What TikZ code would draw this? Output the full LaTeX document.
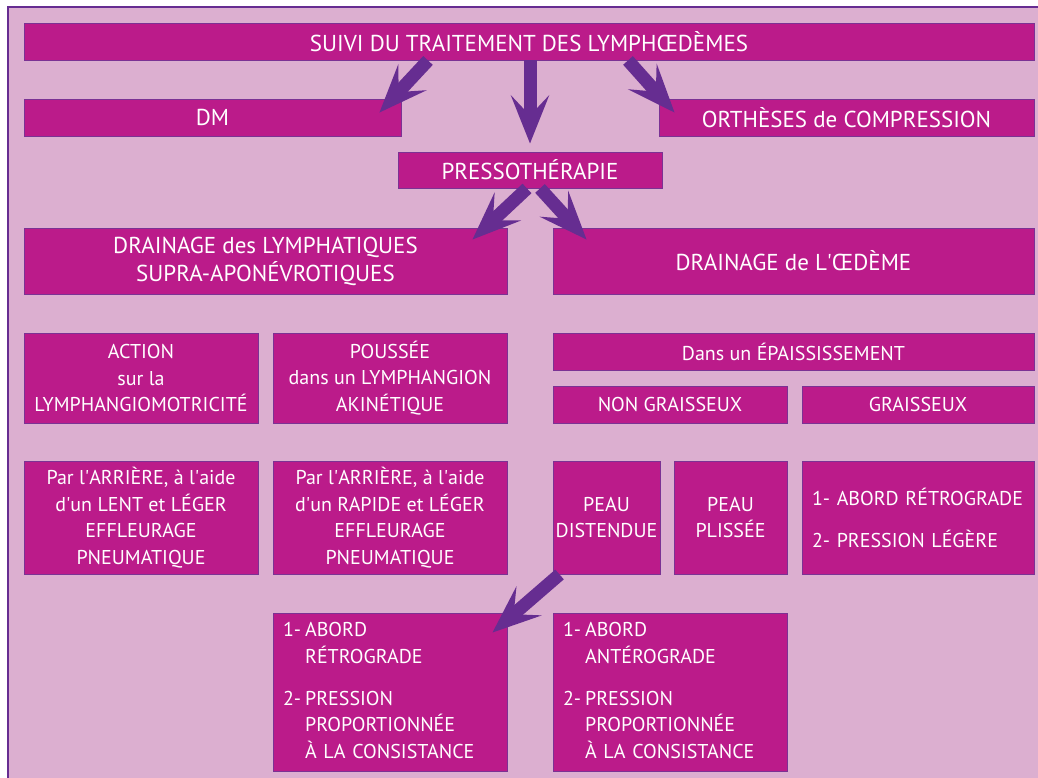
\documentclass[tikz,border=0pt]{standalone}
\usepackage{fontspec}
\setmainfont{PT Sans}
\usetikzlibrary{arrows.meta,calc}
\definecolor{bgpink}{HTML}{DCAFD0}
\definecolor{boxmag}{HTML}{BB1B8A}
\definecolor{boxedge}{HTML}{7B3294}
\definecolor{flowpurple}{HTML}{662D91}
\newcommand{\ap}{\textquotesingle}

\begin{document}
\begin{tikzpicture}[x=1pt, y=-1pt,
  box/.style={fill=boxmag, draw=boxedge, line width=0.9pt, text=white, inner sep=0pt, align=center},
  big/.style={font=\fontsize{23}{28}\selectfont},
  small/.style={font=\fontsize{20}{26.5}\selectfont},
  flow/.style={draw=flowpurple, line width=13pt, -{Stealth[length=48pt, width=38pt, inset=20pt]}}]
\useasboundingbox (0,0) rectangle (1038,778);
\fill[white] (0,0) rectangle (1038,778);
\draw[fill=bgpink, draw=flowpurple, line width=2.5pt] (8,7) rectangle (1060,800);
% top levels
\node[box, big, minimum width=1010, minimum height=37] (suivi) at (529,41.5) {SUIVI DU TRAITEMENT DES LYMPHŒDÈMES};
\node[box, big, minimum width=377, minimum height=37] (dm) at (212.5,117.5) {DM};
\node[box, big, minimum width=375, minimum height=37] (orth) at (846.5,117.5) {ORTHÈSES de COMPRESSION};
\node[box, big, minimum width=264, minimum height=36] (presso) at (530,170) {PRESSOTHÉRAPIE};
\node[box, big, minimum width=483, minimum height=66] (dlymph) at (265.5,261) {DRAINAGE des LYMPHATIQUES\\SUPRA-APONÉVROTIQUES};
\node[box, big, minimum width=481, minimum height=66] (doedeme) at (793.5,261) {DRAINAGE de L\ap ŒDÈME};
% mechanisms
\node[box, small, minimum width=234, minimum height=90] (action) at (141,378) {ACTION\\sur la\\LYMPHANGIOMOTRICITÉ};
\node[box, small, minimum width=234, minimum height=90] (poussee) at (390,378) {POUSSÉE\\dans un LYMPHANGION\\AKINÉTIQUE};
\node[box, small, minimum width=481, minimum height=37] (epais) at (793.5,351.5) {Dans un ÉPAISSISSEMENT};
\node[box, small, minimum width=234, minimum height=37] (nongras) at (670,404.5) {NON GRAISSEUX};
\node[box, small, minimum width=232, minimum height=37] (gras) at (918,404.5) {GRAISSEUX};
% techniques
\node[box, small, minimum width=234, minimum height=113] (lent) at (141,517.5) {Par l\ap ARRIÈRE, à l\ap aide\\d\ap un LENT et LÉGER\\EFFLEURAGE\\PNEUMATIQUE};
\node[box, small, minimum width=234, minimum height=113] (rapide) at (390,517.5) {Par l\ap ARRIÈRE, à l\ap aide\\d\ap un RAPIDE et LÉGER\\EFFLEURAGE\\PNEUMATIQUE};
\node[box, small, minimum width=107, minimum height=113] (distendue) at (606.5,517.5) {PEAU\\DISTENDUE};
\node[box, small, minimum width=113, minimum height=113] (plissee) at (730.5,517.5) {PEAU\\PLISSÉE};
\node[box, small, minimum width=232, minimum height=113, inner xsep=10pt, text width=212, align=left] (retro) at (918,517.5) {1- ABORD RÉTROGRADE\\[15.5pt]2- PRESSION LÉGÈRE};
\node[box, small, minimum width=234, minimum height=158, inner xsep=10pt, text width=214, align=left] (abretro) at (390,692) {\begin{tabular}{@{}l@{\hspace{4pt}}l@{}}1-&ABORD\\&RÉTROGRADE\\[15.5pt]2-&PRESSION\\&PROPORTIONNÉE\\&À LA CONSISTANCE\end{tabular}};
\node[box, small, minimum width=234, minimum height=158, inner xsep=10pt, text width=214, align=left] (abantero) at (670,692) {\begin{tabular}{@{}l@{\hspace{4pt}}l@{}}1-&ABORD\\&ANTÉROGRADE\\[15.5pt]2-&PRESSION\\&PROPORTIONNÉE\\&À LA CONSISTANCE\end{tabular}};
% arrows
\draw[flow] ($(suivi.south)+(-101,0)$) -- ($(dm.north east)+(-22,14)$);
\draw[flow] ($(suivi.south)+(1,0)$) -- ($(presso.north)+(0,-8)$);
\draw[flow] ($(suivi.south)+(99,0)$) -- ($(orth.north west)+(16,14)$);
\draw[flow] ($(presso.south)+(-3,0)$) -- ($(dlymph.north east)+(-35,12)$);
\draw[flow] ($(presso.south)+(10,0)$) -- ($(doedeme.north west)+(34,12)$);
\draw[flow] ($(distendue.south west)+(7,0)$) -- ($(abretro.north east)+(-15,20)$);
\end{tikzpicture}
\end{document}
